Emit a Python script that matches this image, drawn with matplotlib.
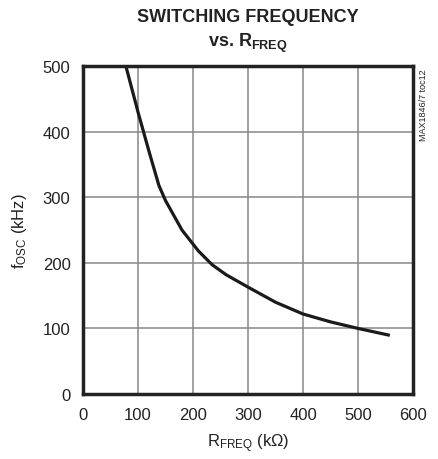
import matplotlib
matplotlib.use('Agg')
import matplotlib.pyplot as plt

# curve
r_freq = [78, 100, 120, 138, 150, 180, 210, 235, 260, 300, 350, 400, 450, 500, 555]
f_osc = [500, 430, 370, 318, 295, 250, 218, 197, 182, 163, 140, 122, 110, 100, 90]
x_ticks = [0, 100, 200, 300, 400, 500, 600]
y_ticks = [0, 100, 200, 300, 400, 500]

plt.rcParams['font.family'] = ['Liberation Sans', 'DejaVu Sans']
plt.rcParams['mathtext.fontset'] = 'custom'
plt.rcParams['mathtext.rm'] = 'Liberation Sans'
plt.rcParams['mathtext.bf'] = 'Liberation Sans:bold'
plt.rcParams['mathtext.default'] = 'regular'

fig = plt.figure(figsize=(4.38, 4.60), dpi=100)
ax = fig.add_axes([0.1895, 0.1413, 0.7535, 0.7127])

ax.plot(r_freq, f_osc, color='#1a1a1a', lw=2.3, solid_joinstyle='round')

ax.set_xlim(0, 600)
ax.set_ylim(0, 500)
ax.set_xticks(x_ticks)
ax.set_yticks(y_ticks)
ax.tick_params(length=0, labelsize=12, pad=9, colors='#222222')
ax.grid(True, color='#888888', lw=1.1)
for s in ax.spines.values():
    s.set_linewidth(2.5)
    s.set_color('#222222')

ax.set_xlabel(r'R$_{FREQ}$ (k$\Omega$)', fontsize=12, labelpad=7, color='#222222')
ax.set_ylabel(r'f$_{OSC}$ (kHz)', fontsize=12, labelpad=10, color='#222222')

fig.text(0.565, 0.962, 'SWITCHING FREQUENCY', ha='center', va='center',
         fontsize=13, fontweight='bold', color='#222222')
fig.text(0.565, 0.905, r'vs. R$_{\mathbf{FREQ}}$', ha='center', va='center',
         fontsize=13, fontweight='bold', color='#222222')

fig.text(0.968, 0.85, 'MAX1846/7 toc12', rotation=90, ha='center', va='top',
         fontsize=6.5, color='#222222')

fig.savefig('out.png', dpi=100)
